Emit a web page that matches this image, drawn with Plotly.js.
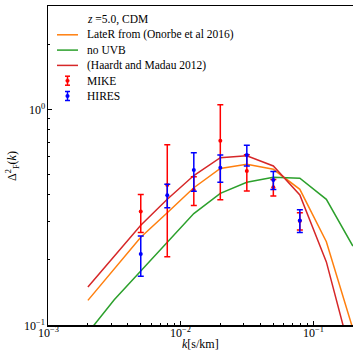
<!DOCTYPE html>
<html>
<head>
<meta charset="utf-8">
<script src="https://cdn.plot.ly/plotly-3.0.1.min.js"></script>
<style>html,body{margin:0;padding:0;background:#fff;}#plot{width:353px;height:351px;}</style>
</head>
<body>
<div id="plot"></div>
<script>
// model k grid (s/km)
const kModel = [0.002, 0.00316, 0.00501, 0.00794, 0.01259, 0.01995, 0.03162, 0.05012, 0.07943, 0.1259, 0.1995];
const lateR = [0.130, 0.182, 0.255, 0.331, 0.432, 0.531, 0.555, 0.526, 0.425, 0.243, 0.096];
const noUVB = [0.092, 0.131, 0.178, 0.243, 0.328, 0.407, 0.458, 0.483, 0.478, 0.382, 0.232];
const hm12  = [0.150, 0.209, 0.290, 0.382, 0.492, 0.595, 0.608, 0.545, 0.400, 0.196, 0.067];

// observations
const kData = [0.00501, 0.00794, 0.01259, 0.01995, 0.03162, 0.05012, 0.07943];
const mike = [0.335, 0.445, 0.422, 0.713, 0.516, 0.434, 0.303];
const mikeErr = [0.067, 0.238, 0.064, 0.333, 0.099, 0.038, 0.028];
const hires = [0.213, 0.399, 0.522, 0.535, 0.612, 0.469, 0.305];
const hiresErr = [0.045, 0.050, 0.106, 0.077, 0.067, 0.045, 0.037];

// tick labels
const xTickVals = [0.001, 0.01, 0.1];
const xTickText = ['10<sup>−3</sup>', '10<sup>−2</sup>', '10<sup>−1</sup>'];
const yTickVals = [0.1, 1];
const yTickText = ['10<sup>−1</sup>', '10<sup>0</sup>'];
const xTitle = '<i>k</i>[s/km]';
const yTitle = 'Δ<sup>2</sup><sub>F</sub>(<i>k</i>)';

// legend entries
const legendLabels = ['<i>z</i> =5.0, CDM', 'LateR from (Onorbe et al 2016)', 'no UVB', '(Haardt and Madau 2012)', 'MIKE', 'HIRES'];
const legendKinds  = ['none', 'line', 'line', 'line', 'err', 'err'];
const legendColors = ['', '#ff7f0e', '#2ca02c', '#d62728', '#ff0000', '#0000ff'];

const serif = "Liberation Serif, DejaVu Serif, serif";
const C = {lateR: '#ff7f0e', noUVB: '#2ca02c', hm12: '#d62728', mike: '#ff0000', hires: '#0000ff'};

const traces = [
  {x: kModel, y: lateR, mode: 'lines', line: {color: C.lateR, width: 1.5}},
  {x: kModel, y: noUVB, mode: 'lines', line: {color: C.noUVB, width: 1.5}},
  {x: kModel, y: hm12, mode: 'lines', line: {color: C.hm12, width: 1.5}},
  {x: kData, y: mike, mode: 'markers', marker: {color: C.mike, size: 4},
   error_y: {type: 'data', array: mikeErr, visible: true, color: C.mike, thickness: 1.5, width: 3}},
  {x: kData, y: hires, mode: 'markers', marker: {color: C.hires, size: 4},
   error_y: {type: 'data', array: hiresErr, visible: true, color: C.hires, thickness: 1.5, width: 3}}
];

// plot-area geometry (pixels) for legend placement
const W = 353, H = 351, mL = 48, mR = 0, mT = 6, mB = 26;
const pw = W - mL - mR, ph = H - mT - mB;
const px = x => (x - mL) / pw;
const py = y => (H - mB - y) / ph;

const shapes = [];
const annotations = [];
const row0 = 19.5, rowStep = 15.3, symL = 57, symR = 78, textX = 85;
legendLabels.forEach((lab, i) => {
  const y = row0 + i * rowStep;
  annotations.push({xref: 'paper', yref: 'paper', x: px(textX), y: py(y), xanchor: 'left', yanchor: 'middle',
    text: lab, showarrow: false, font: {family: serif, size: 11.5, color: '#000'}});
  if (legendKinds[i] === 'line') {
    shapes.push({type: 'line', xref: 'paper', yref: 'paper', x0: px(symL), x1: px(symR), y0: py(y), y1: py(y),
      line: {color: legendColors[i], width: 1.5}});
  } else if (legendKinds[i] === 'err') {
    const cx = (symL + symR) / 2, c = legendColors[i];
    shapes.push({type: 'line', xref: 'paper', yref: 'paper', x0: px(cx), x1: px(cx), y0: py(y - 4.5), y1: py(y + 4.5), line: {color: c, width: 1.5}});
    shapes.push({type: 'line', xref: 'paper', yref: 'paper', x0: px(cx - 2.5), x1: px(cx + 2.5), y0: py(y - 4.5), y1: py(y - 4.5), line: {color: c, width: 1.5}});
    shapes.push({type: 'line', xref: 'paper', yref: 'paper', x0: px(cx - 2.5), x1: px(cx + 2.5), y0: py(y + 4.5), y1: py(y + 4.5), line: {color: c, width: 1.5}});
    shapes.push({type: 'circle', xref: 'paper', yref: 'paper', x0: px(cx - 1.8), x1: px(cx + 1.8), y0: py(y - 1.8), y1: py(y + 1.8), fillcolor: c, line: {color: c, width: 0.5}});
  }
});

// tick labels placed on the axes' own log scales
xTickVals.forEach((v, i) => annotations.push({xref: 'x', yref: 'paper', x: Math.log10(v), y: 0, xanchor: 'center', yanchor: 'top',
  yshift: 2, text: xTickText[i], showarrow: false, font: {family: serif, size: 12, color: '#000'}}));
yTickVals.forEach((v, i) => annotations.push({xref: 'paper', yref: 'y', x: 0, y: Math.log10(v), xanchor: 'right', yanchor: 'middle',
  xshift: -1, text: yTickText[i], showarrow: false, font: {family: serif, size: 12, color: '#000'}}));
// axis titles
annotations.push({xref: 'paper', yref: 'paper', x: 0.5, y: py(343.5), xanchor: 'center', yanchor: 'middle',
  text: xTitle, showarrow: false, font: {family: serif, size: 12, color: '#000'}});
annotations.push({xref: 'paper', yref: 'paper', x: px(13), y: py(166), xanchor: 'center', yanchor: 'middle', textangle: -90,
  text: yTitle, showarrow: false, font: {family: serif, size: 12, color: '#000'}});

const layout = {
  width: W, height: H,
  margin: {l: mL, r: mR, t: mT, b: mB},
  paper_bgcolor: '#fff', plot_bgcolor: '#fff',
  font: {family: serif, size: 12, color: '#000'},
  showlegend: false,
  shapes: shapes,
  annotations: annotations,
  xaxis: {type: 'log', range: [-3, Math.log10(0.2)], showgrid: false, zeroline: false,
          showline: true, linecolor: '#000', linewidth: 1.5, mirror: true,
          ticks: 'inside', ticklen: 4, tickcolor: '#000', dtick: 1, showticklabels: false,
          minor: {ticks: 'inside', ticklen: 2, tickcolor: '#000', dtick: 'D1', showgrid: false}},
  yaxis: {type: 'log', range: [-1, Math.log10(3)], showgrid: false, zeroline: false,
          showline: true, linecolor: '#000', linewidth: 1.5, mirror: false,
          ticks: 'inside', ticklen: 4, tickcolor: '#000', dtick: 1, showticklabels: false,
          minor: {ticks: 'inside', ticklen: 2, tickcolor: '#000', dtick: 'D1', showgrid: false}}
};

Plotly.newPlot('plot', traces, layout, {displayModeBar: false, staticPlot: true});
</script>
</body>
</html>
